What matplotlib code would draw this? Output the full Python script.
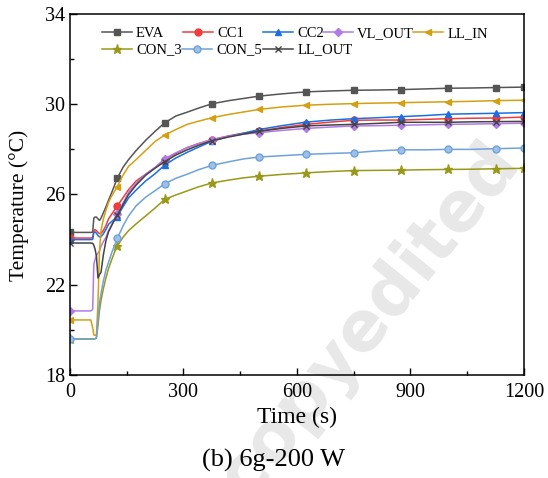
import numpy as np
import matplotlib
matplotlib.use("Agg")
import matplotlib.pyplot as plt
from matplotlib.ticker import FixedLocator
from matplotlib.legend import Legend

plt.rcParams['font.family'] = ['Liberation Serif', 'DejaVu Serif']

# time grid (s) and temperatures (degC)
time = [0, 55, 60, 63, 66, 70, 74, 78, 82, 88, 95, 102, 110, 118, 125, 140, 155, 175,
        200, 225, 250, 280, 310, 340, 375, 420, 460, 500, 560, 625, 690, 750, 810,
        875, 940, 1000, 1060, 1125, 1200]

eva = [24.32, 24.32, 24.33, 24.95, 25.0, 25.0, 24.92, 24.85, 24.95, 25.18, 25.45, 25.75,
       26.07, 26.42, 26.72, 27.2, 27.55, 27.95, 28.4, 28.8, 29.17, 29.48, 29.65, 29.83,
       30.02, 30.16, 30.26, 30.36, 30.46, 30.55, 30.59, 30.62, 30.63, 30.65, 30.68,
       30.71, 30.72, 30.74, 30.76]
cc1 = [24.07, 24.07, 24.08, 24.4, 24.45, 24.4, 24.32, 24.27, 24.27, 24.4, 24.62, 24.92,
       25.12, 25.32, 25.49, 25.85, 26.22, 26.6, 26.9, 27.18, 27.55, 27.82, 28.08, 28.26,
       28.43, 28.6, 28.72, 28.81, 28.97, 29.11, 29.21, 29.29, 29.3, 29.3, 29.33, 29.36,
       29.38, 29.39, 29.43]
cc2 = [24.0, 24.0, 24.01, 24.3, 24.35, 24.28, 24.18, 24.12, 24.13, 24.25, 24.45, 24.68,
       24.8, 24.92, 25.02, 25.45, 25.85, 26.2, 26.6, 26.92, 27.3, 27.62, 27.87, 28.1,
       28.36, 28.58, 28.72, 28.88, 29.05, 29.21, 29.3, 29.36, 29.4, 29.45, 29.5, 29.56,
       29.58, 29.6, 29.63]
vl_out = [20.84, 20.84, 20.9, 22.9, 23.1, 23.3, 23.4, 23.5, 23.7, 23.9, 24.1, 24.4,
          24.65, 24.9, 25.12, 25.6, 26.1, 26.5, 26.9, 27.2, 27.58, 27.85, 28.07, 28.25,
          28.43, 28.58, 28.68, 28.74, 28.84, 28.93, 28.99, 29.04, 29.05, 29.07, 29.09,
          29.11, 29.12, 29.14, 29.16]
ll_in = [20.44, 20.44, 20.1, 19.78, 19.75, 19.8, 21.2, 23.5, 24.4, 24.9, 25.3, 25.65,
         25.93, 26.15, 26.35, 26.85, 27.25, 27.55, 27.95, 28.35, 28.63, 28.88, 29.11,
         29.25, 29.4, 29.55, 29.66, 29.77, 29.88, 29.96, 30.0, 30.03, 30.05, 30.07,
         30.09, 30.11, 30.13, 30.16, 30.18]
con_3 = [19.6, 19.6, 19.6, 19.6, 19.6, 19.65, 20.2, 20.85, 21.3, 21.8, 22.3, 22.72,
         23.1, 23.45, 23.7, 24.1, 24.4, 24.7, 25.05, 25.4, 25.78, 25.98, 26.16, 26.34,
         26.51, 26.64, 26.74, 26.81, 26.89, 26.96, 27.02, 27.06, 27.07, 27.08, 27.1,
         27.11, 27.12, 27.14, 27.16]
con_5 = [19.59, 19.59, 19.59, 19.59, 19.6, 19.63, 20.5, 21.2, 21.6, 22.15, 22.65, 23.0,
         23.4, 23.75, 24.05, 24.6, 25.05, 25.5, 25.88, 26.17, 26.47, 26.72, 26.9, 27.1,
         27.29, 27.45, 27.58, 27.66, 27.72, 27.78, 27.82, 27.85, 27.93, 27.98, 27.98,
         28.0, 28.0, 28.03, 28.06]
ll_out = [23.85, 23.85, 23.84, 23.75, 23.6, 23.26, 22.3, 22.45, 22.55, 23.3, 23.95, 24.35,
          24.62, 24.88, 25.08, 25.55, 26.0, 26.42, 26.85, 27.17, 27.45, 27.75, 27.98,
          28.18, 28.38, 28.55, 28.68, 28.8, 28.93, 29.04, 29.08, 29.11, 29.15, 29.2,
          29.2, 29.2, 29.22, 29.23, 29.24]

marker_times = [0, 125, 250, 375, 500, 625, 750, 875, 1000, 1125, 1200]

series = [
    ("EVA", eva, "#555555", "s"),
    ("CC1", cc1, "#F03C3C", "o"),
    ("CC2", cc2, "#1C6FE0", "^"),
    ("VL_OUT", vl_out, "#B07BE6", "D"),
    ("LL_IN", ll_in, "#D4A012", "<"),
    ("CON_3", con_3, "#9A9818", "*"),
    ("CON_5", con_5, "#6FA2DA", "o"),
    ("LL_OUT", ll_out, "#444444", "x"),
]

fig = plt.figure(figsize=(5.48, 4.78), dpi=100)
ax = fig.add_axes([0.1277, 0.2155, 0.8283, 0.7552])
ax.patch.set_alpha(0)

# faint publisher watermark behind everything
fig.text(0.675, 0.33, "copyedited", fontsize=50, fontweight="bold", family="DejaVu Sans",
         color="#e8e8e8", rotation=51, ha="center", va="center", zorder=-1)

idx = [time.index(t) for t in marker_times]
lines = {}
for name, vals, col, mk in series:
    ms = 6.5 if mk == "*" else (4 if mk == "D" else 5)
    (ln,) = ax.plot(time, vals, color=col, lw=1.1, marker=mk, ms=ms, markevery=idx,
                    label=name)
    if name == "CON_5":
        ln.set_markerfacecolor("#9CC0E8")
    lines[name] = ln

ax.set_xlim(0, 1200)
ax.set_ylim(18, 34)
ax.xaxis.set_major_locator(FixedLocator(np.arange(0, 1201, 300)))
ax.xaxis.set_minor_locator(FixedLocator(np.arange(150, 1200, 300)))
ax.yaxis.set_major_locator(FixedLocator(np.arange(18, 35, 4)))
ax.yaxis.set_minor_locator(FixedLocator(np.arange(20, 34, 4)))
ax.tick_params(which="both", direction="in", top=False, right=False, labelsize=14.5)
ax.tick_params(which="major", length=5, width=1)
ax.tick_params(which="minor", length=3, width=1)
ax.tick_params(axis="x", pad=6)
for sp in ax.spines.values():
    sp.set_linewidth(1.1)

ax.set_xlabel("Time (s)", fontsize=17, labelpad=3)
ax.set_ylabel("Temperature (\u00b0C)", fontsize=15.5)
ax.yaxis.set_label_coords(-0.09, 0.47)

# legend entries placed like the original's two rows
x_px = [101.7, 182.7, 263, 323, 413, 101.7, 181.7, 263]
row_px = [33.3] * 5 + [50] * 3
for (name, _, _, _), xp, yp in zip(series, x_px, row_px):
    leg = Legend(ax, [lines[name]], [name], loc="center left",
                 bbox_to_anchor=((xp - 70) / 454, 1 - (yp - 14) / 361),
                 frameon=False, fontsize=10.5, handlelength=2.05,
                 handletextpad=0.3, borderpad=0, borderaxespad=0)
    ax.add_artist(leg)

fig.text(0.5, 0.012, "(b) 6g-200 W", ha="center", va="bottom", fontsize=19)

fig.savefig("out.png", dpi=100)
